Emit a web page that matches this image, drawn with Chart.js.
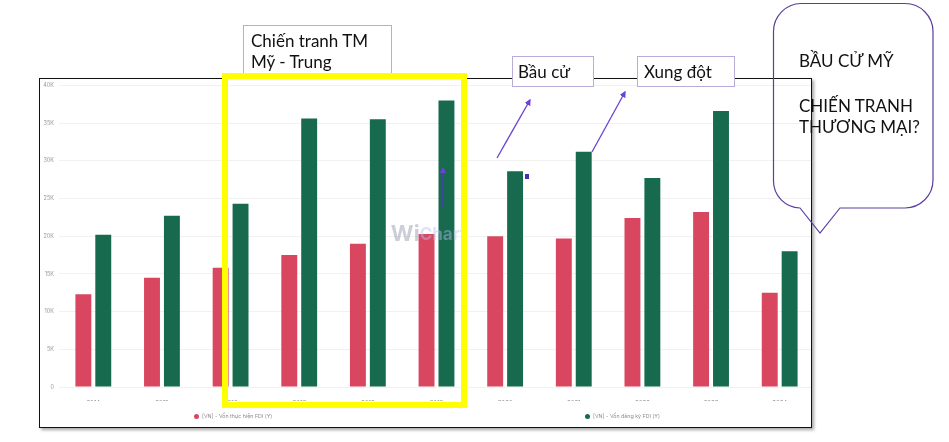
<!DOCTYPE html>
<html>
<head>
<meta charset="utf-8">
<script src="https://cdn.jsdelivr.net/npm/chart.js@4"></script>
<style>
  body { margin: 0; width: 949px; height: 442px; background: #fff; position: relative; overflow: hidden; font-family: Inter, sans-serif; }
  #wrap { position: absolute; left: 40px; top: 80px; width: 772px; height: 348px; overflow: hidden; }
  #wrap canvas { position: absolute; left: 0; top: -3px; }
  #frame { position: absolute; left: 39px; top: 78px; width: 773px; height: 350px; box-sizing: border-box;
           border: 1.5px solid #111; box-shadow: 2px 2px 3px rgba(0,0,0,0.35); pointer-events: none; }
  .lg { position: absolute; top: 411px; height: 10px; line-height: 10px; font-size: 5.3px; color: #8a8a8a; white-space: nowrap; }
  .lg i { display: inline-block; width: 5px; height: 5px; border-radius: 50%; vertical-align: middle; margin-right: 3px; position: relative; top: -0.5px; }
  #notes { position: absolute; left: 0; top: 0; }
  #notes text { font-family: Lato, "Liberation Sans", sans-serif; font-size: 17px; fill: #111; }
</style>
</head>
<body>
<div id="wrap"><canvas id="fdi-chart" width="774" height="351"></canvas></div>
<div id="legend"></div>
<div id="frame"></div>
<svg id="notes" width="949" height="442">
  <defs>
    <marker id="ah" viewBox="0 0 10 10" refX="8" refY="5" markerWidth="5" markerHeight="5" orient="auto">
      <path d="M0 0 L10 5 L0 10 z" fill="#6a42d4"/>
    </marker>
  </defs>
  <rect x="243.5" y="25.5" width="148" height="52" fill="#fff" stroke="#b9acd9" stroke-width="1"/>
  <text x="251" y="47">Chiến tranh TM</text>
  <text x="251" y="68">Mỹ - Trung</text>
  <rect x="225" y="76" width="239" height="329" fill="none" stroke="#ffff00" stroke-width="6"/>
  <rect x="512.5" y="56.5" width="81" height="30" fill="#fff" stroke="#b9acd9" stroke-width="1"/>
  <text x="518" y="78">Bầu cử</text>
  <rect x="637.5" y="56.5" width="97" height="30" fill="#fff" stroke="#b9acd9" stroke-width="1"/>
  <text x="644" y="78">Xung đột</text>
  <line x1="497" y1="158" x2="530" y2="100" stroke="#6a42d4" stroke-width="1.3" marker-end="url(#ah)"/>
  <line x1="592" y1="152" x2="625" y2="92" stroke="#6a42d4" stroke-width="1.3" marker-end="url(#ah)"/>
  <line x1="443" y1="208" x2="443" y2="168" stroke="#5236c8" stroke-width="1.3" marker-end="url(#ah)"/>
  <rect x="525" y="174" width="4" height="5" fill="#4a2cb8"/>
  <path d="M801 3.5 H905 A28 28 0 0 1 933 31.5 V180 A28 28 0 0 1 905 208 H840 L820 233 L800 208 A27 27 0 0 1 773.5 181 V31.5 A28 28 0 0 1 801 3.5 Z"
        fill="none" stroke="#5a3e9c" stroke-width="1.2"/>
  <text x="799" y="67">BẦU CỬ MỸ</text>
  <text x="799" y="112">CHIẾN TRANH</text>
  <text x="799" y="133">THƯƠNG MẠI?</text>
</svg>
<script>
const years = ['2014', '2015', '2016', '2017', '2018', '2019', '2020', '2021', '2022', '2023', '2024'];
const implementedFdi = [12300, 14500, 15800, 17500, 19000, 20300, 20000, 19700, 22400, 23200, 12500];
const registeredFdi = [20200, 22700, 24300, 35600, 35500, 38000, 28600, 31200, 27700, 36600, 18000];
const seriesNames = ['[VN] - Vốn thực hiện FDI (Y)', '[VN] - Vốn đăng ký FDI (Y)'];
const seriesColors = ['#d8475f', '#176a4d'];

// faint watermark over the bars
const watermark = {
  id: 'watermark',
  afterDatasetsDraw(chart) {
    const { ctx, chartArea: a } = chart;
    const cx = (a.left + a.right) / 2 - 8, cy = (a.top + a.bottom) / 2 - 2;
    ctx.save();
    ctx.globalAlpha = 0.45;
    ctx.font = 'bold 22px Inter, sans-serif';
    ctx.textBaseline = 'middle';
    const w1 = ctx.measureText('Wi').width;
    ctx.font = 'bold 17px Inter, sans-serif';
    const w2 = ctx.measureText('Chart').width;
    let x = cx - (w1 + w2) / 2;
    ctx.font = 'bold 22px Inter, sans-serif';
    ctx.fillStyle = '#8d93a8';
    ctx.fillText('Wi', x, cy);
    ctx.font = 'bold 17px Inter, sans-serif';
    ctx.fillStyle = '#b6bdf0';
    ctx.fillText('Chart', x + w1, cy + 1);
    ctx.restore();
  }
};

const chart = new Chart(document.getElementById('fdi-chart').getContext('2d'), {
  type: 'bar',
  data: {
    labels: years,
    datasets: [
      { label: seriesNames[0], data: implementedFdi, backgroundColor: seriesColors[0] },
      { label: seriesNames[1], data: registeredFdi, backgroundColor: seriesColors[1] }
    ]
  },
  options: {
    responsive: false,
    animation: false,
    categoryPercentage: 0.58,
    barPercentage: 0.8,
    layout: { padding: { top: 0, right: 0, bottom: 27, left: 0 } },
    plugins: { legend: { display: false }, tooltip: { enabled: false } },
    scales: {
      x: {
        grid: { display: false },
        border: { display: false },
        ticks: { color: '#8c8c8c', font: { family: 'Inter', size: 6 }, padding: 5 },
        afterFit(s) { s.height = 14; }
      },
      y: {
        min: 0,
        max: 40000,
        grid: { color: '#f1f1f1', drawTicks: false },
        border: { display: false },
        ticks: {
          stepSize: 5000,
          color: '#999',
          font: { family: 'Inter', size: 5.5 },
          padding: 5,
          callback: v => v === 0 ? '0' : (v / 1000) + 'K'
        },
        afterFit(s) { s.width = 19; }
      }
    }
  },
  plugins: [watermark]
});

// legend spread out as in the original widget
const legendX = [194, 585];
document.getElementById('legend').innerHTML = chart.data.datasets.map((d, i) =>
  `<div class="lg" style="left:${legendX[i]}px"><i style="background:${d.backgroundColor}"></i>${d.label}</div>`
).join('');
</script>
</body>
</html>
